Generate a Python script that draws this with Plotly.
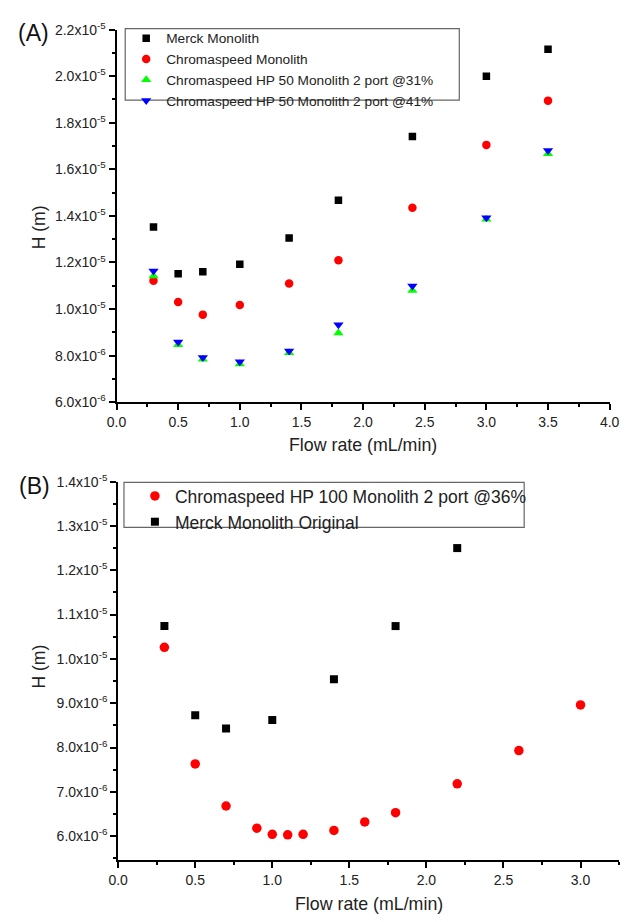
import plotly.graph_objects as go

W, H = 631, 922
FONT = "Liberation Sans, Arial, sans-serif"

# ---------------- data (A) ----------------
flow_a = [0.3, 0.5, 0.7, 1.0, 1.4, 1.8, 2.4, 3.0, 3.5]
merck_a = [13.52e-6, 11.52e-6, 11.60e-6, 11.92e-6, 13.05e-6, 14.67e-6, 17.41e-6, 20.00e-6, 21.16e-6]
chroma_a = [11.21e-6, 10.30e-6, 9.76e-6, 10.17e-6, 11.10e-6, 12.10e-6, 14.35e-6, 17.05e-6, 18.95e-6]
hp50_31 = [11.42e-6, 8.47e-6, 7.84e-6, 7.64e-6, 8.12e-6, 8.97e-6, 10.80e-6, 13.86e-6, 16.67e-6]
hp50_41 = [11.63e-6, 8.59e-6, 7.92e-6, 7.74e-6, 8.20e-6, 9.33e-6, 10.99e-6, 13.92e-6, 16.81e-6]

yticks_a = [6e-6, 8e-6, 1.0e-5, 1.2e-5, 1.4e-5, 1.6e-5, 1.8e-5, 2.0e-5, 2.2e-5]
ytext_a = ["6.0x10<sup>-6</sup>", "8.0x10<sup>-6</sup>", "1.0x10<sup>-5</sup>", "1.2x10<sup>-5</sup>",
           "1.4x10<sup>-5</sup>", "1.6x10<sup>-5</sup>", "1.8x10<sup>-5</sup>", "2.0x10<sup>-5</sup>",
           "2.2x10<sup>-5</sup>"]
xticks_a = [0.0, 0.5, 1.0, 1.5, 2.0, 2.5, 3.0, 3.5, 4.0]
xtext_a = ["0.0", "0.5", "1.0", "1.5", "2.0", "2.5", "3.0", "3.5", "4.0"]

# ---------------- data (B) ----------------
flow_hp100 = [0.3, 0.5, 0.7, 0.9, 1.0, 1.1, 1.2, 1.4, 1.6, 1.8, 2.2, 2.6, 3.0]
hp100 = [10.26e-6, 7.63e-6, 6.68e-6, 6.18e-6, 6.04e-6, 6.03e-6, 6.04e-6, 6.13e-6, 6.32e-6,
         6.53e-6, 7.18e-6, 7.93e-6, 8.96e-6]
flow_merck_b = [0.3, 0.5, 0.7, 1.0, 1.4, 1.8, 2.2]
merck_b = [10.74e-6, 8.73e-6, 8.43e-6, 8.62e-6, 9.54e-6, 10.74e-6, 12.50e-6]

yticks_b = [6e-6, 7e-6, 8e-6, 9e-6, 1.0e-5, 1.1e-5, 1.2e-5, 1.3e-5, 1.4e-5]
ytext_b = ["6.0x10<sup>-6</sup>", "7.0x10<sup>-6</sup>", "8.0x10<sup>-6</sup>", "9.0x10<sup>-6</sup>",
           "1.0x10<sup>-5</sup>", "1.1x10<sup>-5</sup>", "1.2x10<sup>-5</sup>", "1.3x10<sup>-5</sup>",
           "1.4x10<sup>-5</sup>"]
xticks_b = [0.0, 0.5, 1.0, 1.5, 2.0, 2.5, 3.0]
xtext_b = ["0.0", "0.5", "1.0", "1.5", "2.0", "2.5", "3.0"]


def px(p):
    return p / W


def py(p):
    return 1 - p / H


fig = go.Figure()

fig.add_trace(go.Scatter(x=flow_a, y=merck_a, mode="markers", name="Merck Monolith",
                         marker=dict(symbol="square", size=7.5, color="#000000"),
                         xaxis="x", yaxis="y", legend="legend"))
fig.add_trace(go.Scatter(x=flow_a, y=chroma_a, mode="markers", name="Chromaspeed Monolith",
                         marker=dict(symbol="circle", size=8.5, color="#ff0000"),
                         xaxis="x", yaxis="y", legend="legend"))
fig.add_trace(go.Scatter(x=flow_a, y=hp50_31, mode="markers",
                         name="Chromaspeed HP 50 Monolith 2 port @31%",
                         marker=dict(symbol="triangle-up", size=9, color="#00ff00"),
                         xaxis="x", yaxis="y", legend="legend"))
fig.add_trace(go.Scatter(x=flow_a, y=hp50_41, mode="markers",
                         name="Chromaspeed HP 50 Monolith 2 port @41%",
                         marker=dict(symbol="triangle-down", size=9, color="#0000ff"),
                         xaxis="x", yaxis="y", legend="legend"))

fig.add_trace(go.Scatter(x=flow_hp100, y=hp100, mode="markers",
                         name="Chromaspeed HP 100 Monolith 2 port @36%",
                         marker=dict(symbol="circle", size=9.5, color="#ff0000"),
                         xaxis="x2", yaxis="y2", legend="legend2"))
fig.add_trace(go.Scatter(x=flow_merck_b, y=merck_b, mode="markers",
                         name="Merck Monolith Original",
                         marker=dict(symbol="square", size=8, color="#000000"),
                         xaxis="x2", yaxis="y2", legend="legend2"))

axis_common = dict(showline=True, linecolor="black", linewidth=2, ticks="outside",
                   ticklen=6, tickwidth=2, tickcolor="black", showgrid=False, zeroline=False,
                   tickfont=dict(family=FONT, size=14, color="#222222"), tickmode="array")


def minor(d):
    return dict(tickmode="linear", tick0=0, dtick=d, ticks="outside",
                ticklen=3, tickwidth=2, tickcolor="black")


fig.update_layout(
    width=W, height=H,
    margin=dict(l=0, r=0, t=0, b=0),
    paper_bgcolor="white", plot_bgcolor="white",
    font=dict(family=FONT, color="black"),
    xaxis=dict(domain=[px(110), px(619.3)], range=[0, 4.0], anchor="y",
               tickvals=xticks_a, ticktext=xtext_a, minor=minor(0.25), **axis_common),
    yaxis=dict(domain=[py(400), py(20)], range=[6e-6, 2.2e-5], anchor="x",
               tickvals=yticks_a, ticktext=ytext_a, minor=minor(1e-6), **axis_common),
    xaxis2=dict(domain=[px(111.7), px(629)], range=[0, 3.25], anchor="y2",
                tickvals=xticks_b, ticktext=xtext_b, minor=minor(0.25), **axis_common),
    yaxis2=dict(domain=[py(867), py(481)], range=[5.46e-6, 1.4e-5], anchor="x2",
                tickvals=yticks_b, ticktext=ytext_b, minor=minor(0.5e-6), **axis_common),
    legend=dict(x=px(120), y=py(13), xanchor="left", yanchor="top",
                bgcolor="rgba(0,0,0,0)", borderwidth=0,
                font=dict(family=FONT, size=13.7, color="#222222"), tracegroupgap=0),
    legend2=dict(x=px(129), y=py(477.4), xanchor="left", yanchor="top",
                 bgcolor="rgba(0,0,0,0)", borderwidth=0,
                 font=dict(family=FONT, size=17.5, color="#222222"), tracegroupgap=0),
    showlegend=True,
)

# legend frames
fig.add_shape(type="rect", xref="paper", yref="paper", x0=px(119), x1=px(464),
              y0=py(92), y1=py(19), line=dict(color="#666666", width=1.2))
fig.add_shape(type="rect", xref="paper", yref="paper", x0=px(117.7), x1=px(531),
              y0=py(527.7), y1=py(481.7), line=dict(color="#666666", width=1.2))

ann = []
ann.append(dict(text="(A)", x=px(24), y=py(23), xanchor="center", yanchor="middle",
                font=dict(size=23, family=FONT, color="#111111")))
ann.append(dict(text="(B)", x=px(25), y=py(485), xanchor="center", yanchor="middle",
                font=dict(size=23, family=FONT, color="#111111")))
ann.append(dict(text="H (m)", x=px(29.5), y=py(222), textangle=-90, xanchor="center",
                yanchor="middle", font=dict(size=17.5, family=FONT, color="#222222")))
ann.append(dict(text="H (m)", x=px(29.5), y=py(670), textangle=-90, xanchor="center",
                yanchor="middle", font=dict(size=17.5, family=FONT, color="#222222")))
ann.append(dict(text="Flow rate (mL/min)", x=px(364.6), y=py(443.5), xanchor="center",
                yanchor="middle", font=dict(size=17.8, family=FONT, color="#222222")))
ann.append(dict(text="Flow rate (mL/min)", x=px(370.3), y=py(912), xanchor="center",
                yanchor="middle", font=dict(size=17.8, family=FONT, color="#222222")))
for a in ann:
    a.update(xref="paper", yref="paper", showarrow=False)
fig.update_layout(annotations=ann)

fig.write_html("out.html", config={"displayModeBar": False},
               post_script="document.body.style.margin='0px';document.body.style.overflow='hidden';")
